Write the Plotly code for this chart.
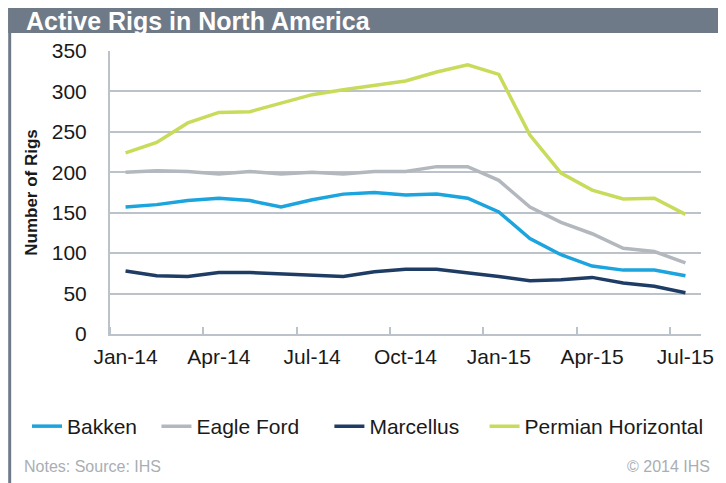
"""
Active Rigs in North America - monthly rig counts by play.
"""

import plotly.graph_objects as go

# Monthly categories, Jan-14 .. Jul-15
months = ['Jan-14', 'Feb-14', 'Mar-14', 'Apr-14', 'May-14', 'Jun-14', 'Jul-14',
          'Aug-14', 'Sep-14', 'Oct-14', 'Nov-14', 'Dec-14', 'Jan-15', 'Feb-15',
          'Mar-15', 'Apr-15', 'May-15', 'Jun-15', 'Jul-15']

bakken = [157, 160, 165, 168, 165, 157, 166, 173, 175, 172, 173, 168, 151, 118,
          98, 84, 79, 79, 72]
eagle_ford = [200, 202, 201, 198, 201, 198, 200, 198, 201, 201, 207, 207, 190, 157,
              138, 124, 106, 102, 88]
marcellus = [78, 72, 71, 76, 76, 74, 73, 71, 77, 80, 80, 76, 71, 66,
             67, 70, 63, 59, 51]
permian = [224, 237, 261, 274, 275, 285, 296, 302, 307, 313, 324, 333, 321, 246,
           199, 178, 167, 168, 148]

tick_labels = ['Jan-14', 'Apr-14', 'Jul-14', 'Oct-14', 'Jan-15', 'Apr-15', 'Jul-15']

colors = {
    'bakken': '#1ba4de',
    'eagle_ford': '#b3b8be',
    'marcellus': '#1f3d64',
    'permian': '#c9db5a',
    'band': '#6f7a88',
    'grid': '#bcc2ca',
}

FONT = 'Liberation Sans, Arial, sans-serif'
PAGE = 8            # default body margin of the html page
W, H = 726 - PAGE, 483 - PAGE
L, R, T, B = 102, 18, 43, 149

x = list(range(len(months)))
label_pos = [months.index(m) for m in tick_labels]


def px_x(px):
    # window pixel -> paper x
    return (px - PAGE - L) / (W - L - R)


def px_y(py):
    # window pixel -> paper y
    return (H - B - (py - PAGE)) / (H - T - B)


fig = go.Figure()

# one legend per series so each entry sits where the original has it
series = [
    ('Bakken', bakken, 'bakken', 'legend', 31),
    ('Eagle Ford', eagle_ford, 'eagle_ford', 'legend2', 162),
    ('Marcellus', marcellus, 'marcellus', 'legend3', 337),
    ('Permian Horizontal', permian, 'permian', 'legend4', 494),
]

legends = {}
for name, values, key, leg, leg_x in series:
    fig.add_trace(go.Scatter(
        x=x, y=values, mode='lines', name=name,
        line=dict(color=colors[key], width=3.5),
        legend=leg,
        customdata=months,
        hovertemplate='%{customdata}<br>' + name + ': %{y}<extra></extra>'
    ))
    legends[leg] = dict(orientation='h', x=px_x(leg_x - 5), y=px_y(406),
                        xanchor='left', yanchor='top',
                        font=dict(family=FONT, size=21, color='#1a1a1a'),
                        itemwidth=30, bgcolor='rgba(0,0,0,0)')

# title band and left frame
fig.add_shape(type='rect', xref='paper', yref='paper',
              x0=px_x(7), x1=px_x(730), y0=px_y(33), y1=px_y(3),
              fillcolor=colors['band'], line_width=0, layer='below')
fig.add_shape(type='rect', xref='paper', yref='paper',
              x0=px_x(7), x1=px_x(10), y0=px_y(490), y1=px_y(3),
              fillcolor=colors['band'], line_width=0, layer='below')

fig.add_annotation(text='<b>Active Rigs in North America</b>', xref='paper', yref='paper',
                   x=px_x(23), y=px_y(21), xanchor='left', yanchor='middle',
                   showarrow=False, font=dict(family=FONT, size=25, color='white'))
fig.add_annotation(text='Notes: Source: IHS', xref='paper', yref='paper',
                   x=px_x(21), y=px_y(466), xanchor='left', yanchor='middle',
                   showarrow=False, font=dict(family=FONT, size=16, color='#a9aeb3'))
fig.add_annotation(text='© 2014 IHS', xref='paper', yref='paper',
                   x=px_x(719), y=px_y(466), xanchor='right', yanchor='middle',
                   showarrow=False, font=dict(family=FONT, size=16, color='#a9aeb3'))

fig.update_layout(
    width=W, height=H,
    margin=dict(l=L, r=R, t=T, b=B),
    paper_bgcolor='white', plot_bgcolor='white',
    font=dict(family=FONT, size=21, color='#1a1a1a'),
    showlegend=True,
    xaxis=dict(
        range=[-0.5, len(months) - 0.5],
        tickmode='array', tickvals=label_pos, ticktext=tick_labels,
        ticks='', showgrid=False, zeroline=False,
        showline=True, linecolor=colors['grid'], linewidth=2,
        ticklabelstandoff=3,
        minor=dict(tickmode='array',
                   tickvals=[p - 0.5 for p in label_pos],
                   ticks='inside', ticklen=7, tickcolor=colors['grid'], tickwidth=1.5,
                   showgrid=False),
    ),
    yaxis=dict(
        range=[0, 350], tickmode='linear', tick0=0, dtick=50,
        showgrid=True, gridcolor=colors['grid'], gridwidth=2,
        zeroline=False, showline=True, linecolor=colors['grid'], linewidth=2,
        ticks='', ticklabelstandoff=17,
        title=dict(text='<b>Number of Rigs</b>', standoff=10,
                   font=dict(family=FONT, size=17, color='#1a1a1a')),
    ),
    **legends,
)

fig.write_html("out.html")
